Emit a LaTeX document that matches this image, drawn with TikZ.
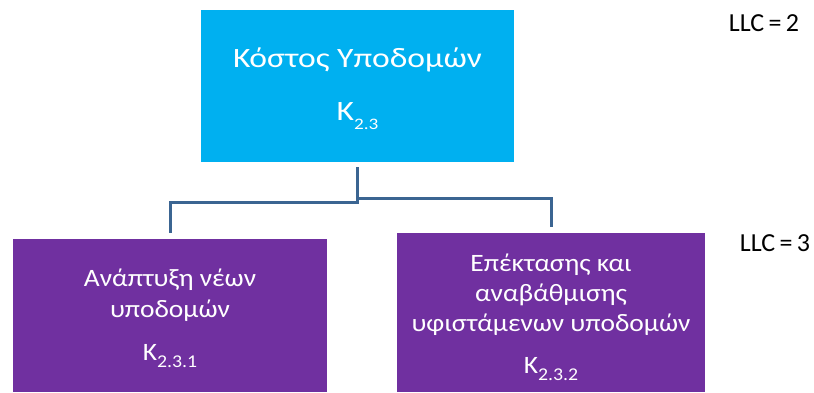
\documentclass[tikz,border=0pt]{standalone}
\usepackage{fontspec}
\setmainfont{Carlito}
\newfontfamily\topfont{Carlito}[FakeStretch=1.2]
\newfontfamily\childfont{Carlito}[FakeStretch=1.1]
\definecolor{topfill}{HTML}{00B0F0}
\definecolor{childfill}{HTML}{7030A0}
\definecolor{linkcol}{HTML}{3B6592}
% K with a lowered index: \ksub{index size}{drop}{index}
\newcommand{\ksub}[3]{K\raisebox{-#2}{\fontsize{#1}{#1}\selectfont #3}}
\begin{document}
\begin{tikzpicture}[x=1pt,y=-1pt,
  box/.style={draw=none, inner sep=0pt},
  label text/.style={inner sep=0pt, align=center, text=white},
  conn/.style={draw=linkcol, line width=3pt},
  llc/.style={inner sep=0pt, font=\fontsize{26}{28}\selectfont}]
  \useasboundingbox (0,0) rectangle (814,392);
  % root of the hierarchy
  \node[box, fill=topfill, minimum width=313pt, minimum height=152pt]
    (top) at (357.5,86) {};
  \node[label text, font=\topfont\fontsize{28}{34}\selectfont]
    (toptext) at ([yshift=-3pt]top.center) {Κόστος Υποδομών\\[19pt]\ksub{16}{9pt}{2.3}};
  % second-level items
  \node[box, fill=childfill, minimum width=314pt, minimum height=153pt]
    (left) at (170,315.5) {};
  \node[label text, font=\childfont\fontsize{25}{31}\selectfont]
    (lefttext) at ([yshift=-3pt]left.center) {Ανάπτυξη νέων\\υποδομών\\[12pt]\ksub{18}{7pt}{2.3.1}};
  \node[box, fill=childfill, minimum width=308pt, minimum height=159pt]
    (right) at (551,312.5) {};
  \node[label text, font=\childfont\fontsize{25}{30}\selectfont]
    (righttext) at ([yshift=-5pt]right.center) {Επέκτασης και\\αναβάθμισης\\υφιστάμενων υποδομών\\[12pt]\ksub{18}{7pt}{2.3.2}};
  % elbow connectors
  \draw[conn, shorten <=5pt, shorten >=6pt] (top.south) -- ++(0,40) -| (left.north);
  \draw[conn, shorten <=5pt, shorten >=6pt] (top.south) -- ++(0,36) -| (right.north);
  % level markers
  \node[llc] (llc2) at (764,23) {LLC\,=\,2};
  \node[llc] (llc3) at (775,243) {LLC\,=\,3};
\end{tikzpicture}
\end{document}
